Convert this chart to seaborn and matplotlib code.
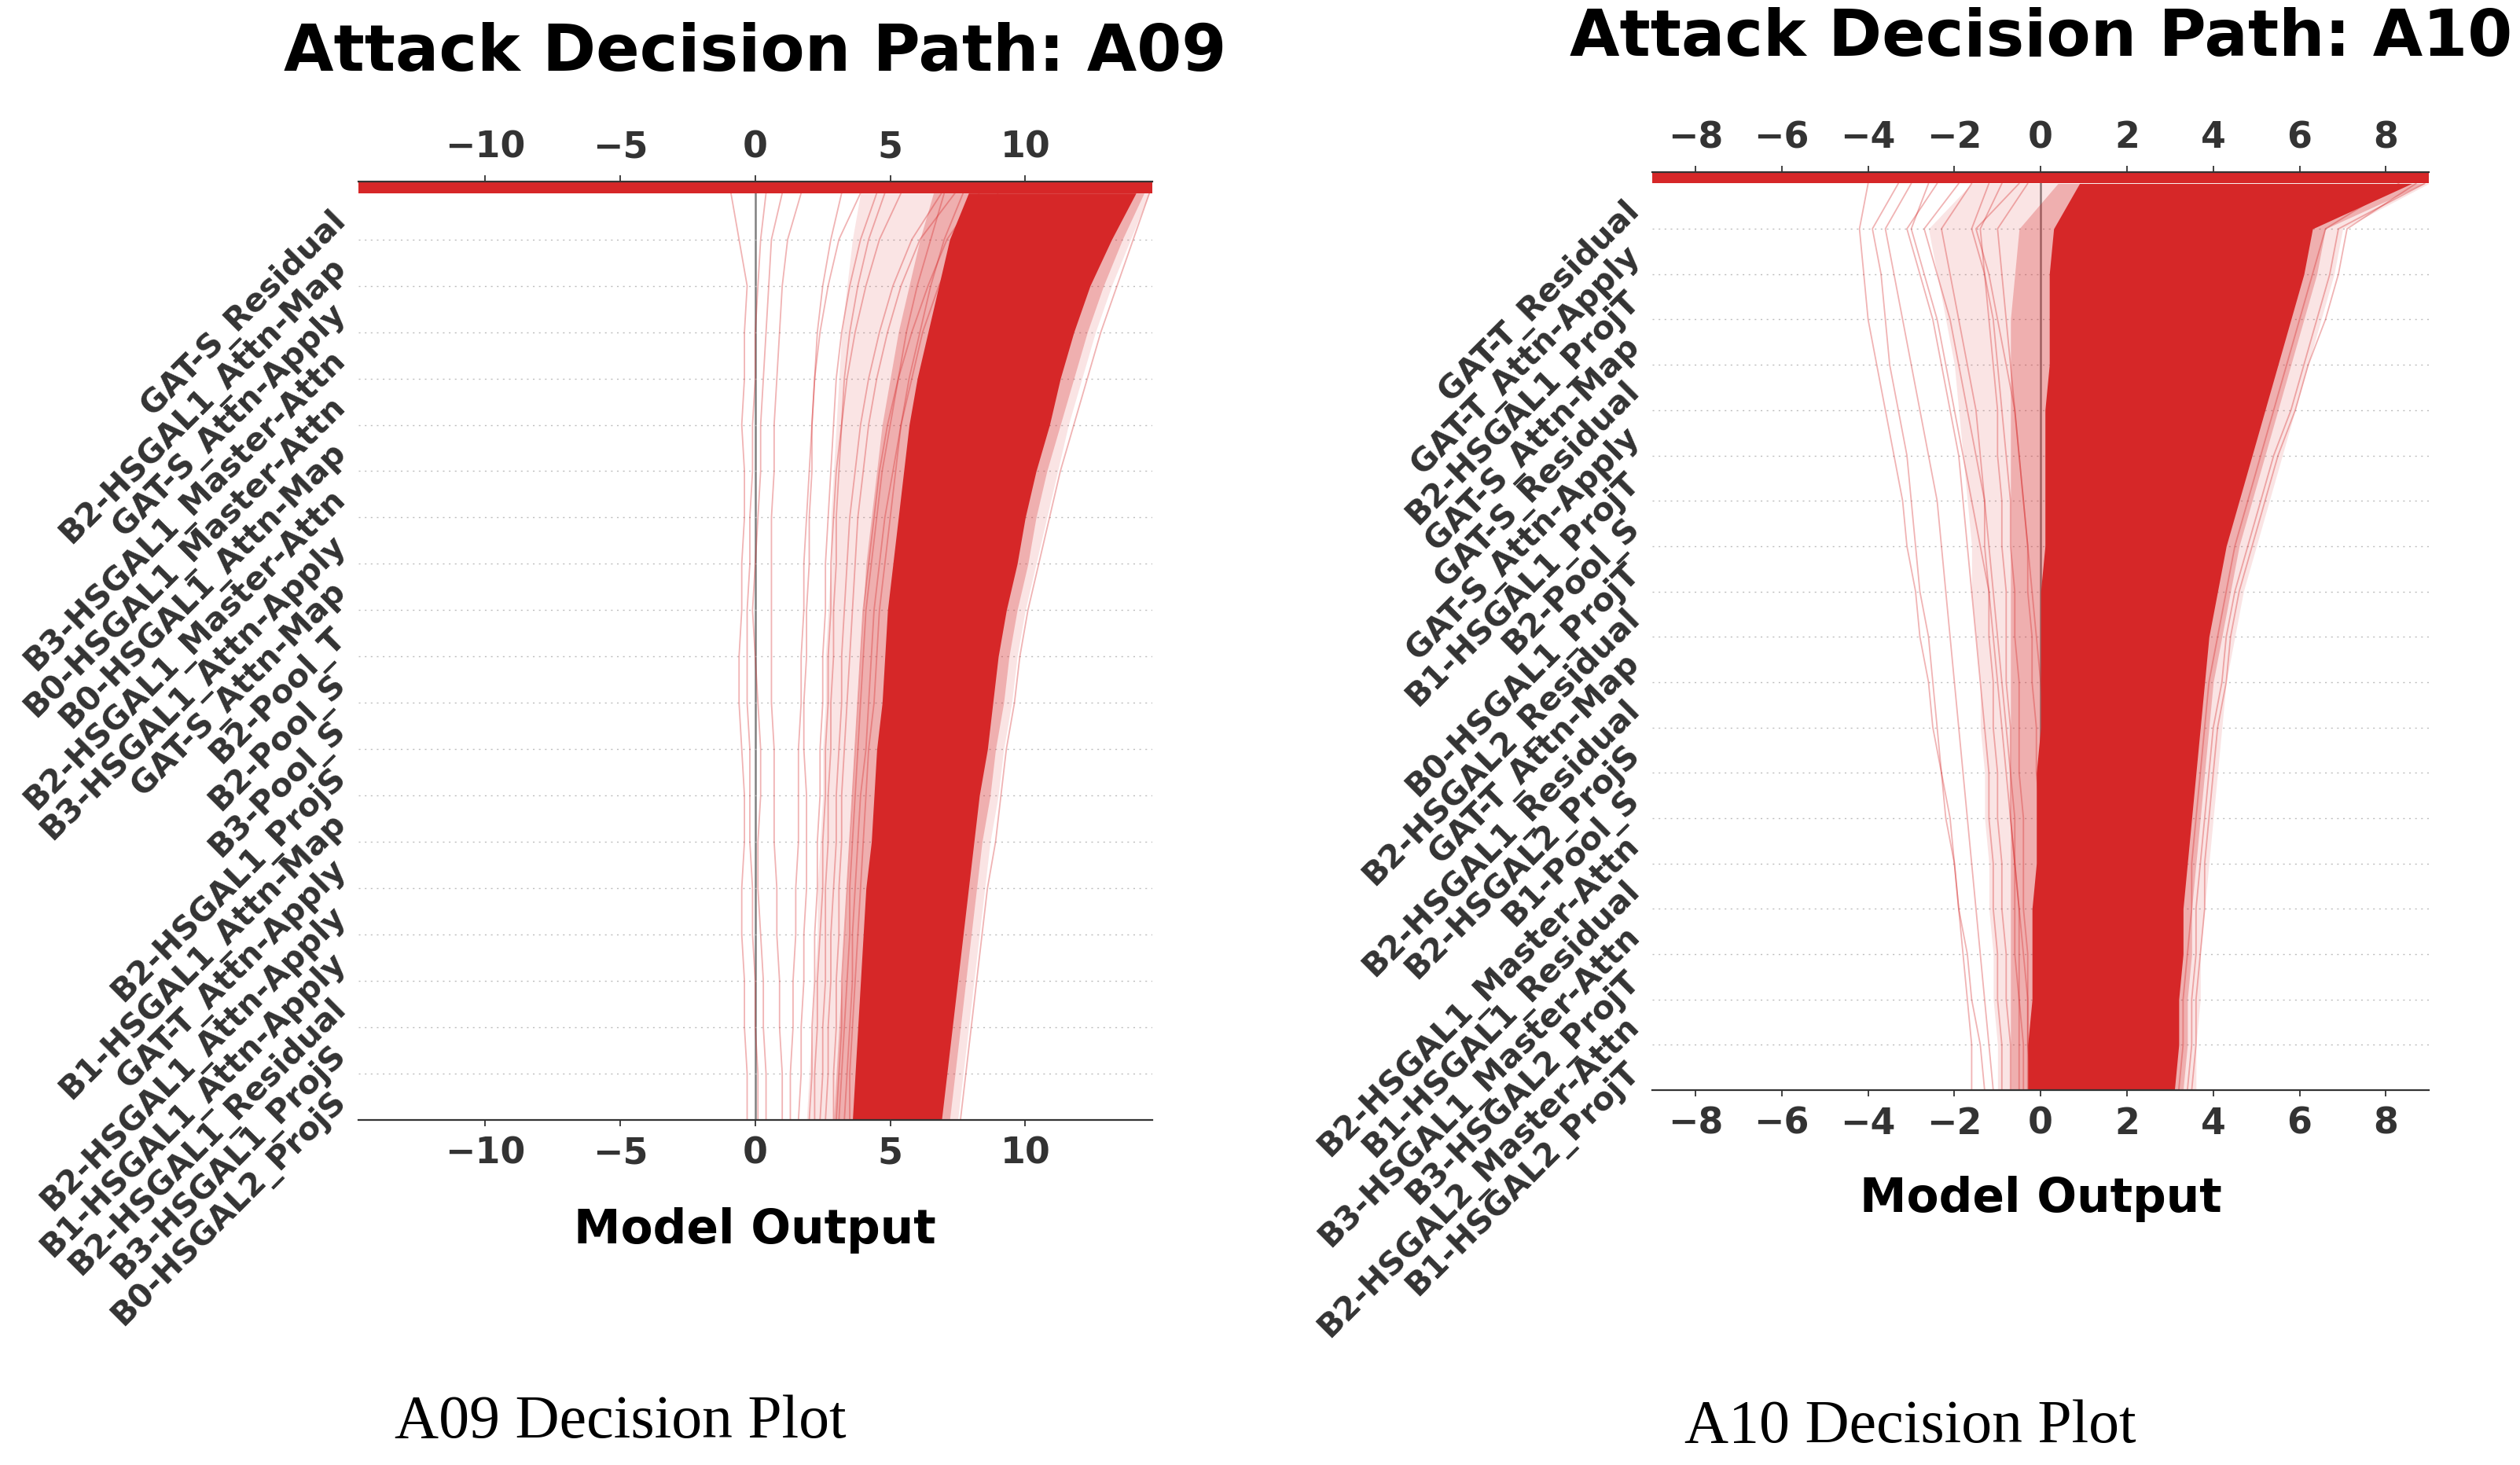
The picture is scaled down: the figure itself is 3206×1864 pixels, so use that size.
import numpy as np
import pandas as pd
import matplotlib
matplotlib.use("Agg")
import matplotlib.pyplot as plt
import seaborn as sns

sns.set_theme(style="white")
plt.rcParams["font.family"] = ["DejaVu Sans"]
plt.rcParams["font.weight"] = "bold"

RED = "#d62728"
AXIS = "#333333"

levels = list(range(21))

# ---------------- A09 ----------------
a09_features = ["GAT-S_Residual", "B2-HSGAL1_Attn-Map", "GAT-S_Attn-Apply",
                "B3-HSGAL1_Master-Attn", "B0-HSGAL1_Master-Attn", "B0-HSGAL1_Attn-Map",
                "B2-HSGAL1_Master-Attn", "B3-HSGAL1_Attn-Apply", "GAT-S_Attn-Map",
                "B2-Pool_T", "B2-Pool_S", "B3-Pool_S", "B2-HSGAL1_ProjS",
                "B1-HSGAL1_Attn-Map", "GAT-T_Attn-Apply", "B2-HSGAL1_Attn-Apply",
                "B1-HSGAL1_Attn-Apply", "B2-HSGAL1_Residual", "B3-HSGAL1_ProjS",
                "B0-HSGAL2_ProjS"]
a09_xticks = [-10, -5, 0, 5, 10]
a09_core_lo = [3.6, 3.7, 3.8, 3.9, 4.0, 4.1, 4.3, 4.4, 4.5, 4.7, 4.8, 4.9, 5.1, 5.3, 5.5, 5.7, 6.0, 6.4, 6.8, 7.2, 7.9]
a09_core_hi = [6.9, 7.1, 7.3, 7.5, 7.7, 7.9, 8.1, 8.3, 8.6, 8.8, 9.0, 9.3, 9.7, 10.0, 10.4, 10.9, 11.3, 11.8, 12.4, 13.2, 14.1]
a09_mid_lo = [2.9, 3.0, 3.1, 3.2, 3.3, 3.4, 3.5, 3.6, 3.7, 3.8, 3.9, 4.0, 4.1, 4.3, 4.5, 4.7, 5.0, 5.3, 5.7, 6.1, 6.6]
a09_mid_hi = [7.2, 7.4, 7.6, 7.8, 8.0, 8.2, 8.4, 8.7, 8.9, 9.2, 9.4, 9.7, 10.1, 10.4, 10.8, 11.3, 11.8, 12.3, 12.9, 13.6, 14.4]
a09_semi_lo = [1.9, 2.0, 2.1, 2.2, 2.3, 2.3, 2.4, 2.5, 2.5, 2.6, 2.6, 2.7, 2.8, 2.8, 2.9, 3.0, 3.1, 3.2, 3.4, 3.6, 3.9]
a09_semi_hi = [7.5, 7.7, 7.9, 8.1, 8.3, 8.5, 8.7, 9.0, 9.2, 9.5, 9.7, 10.0, 10.4, 10.8, 11.2, 11.6, 12.1, 12.6, 13.2, 13.9, 14.6]
a09_faint = [
    [-0.3, -0.3, -0.4, -0.4, -0.5, -0.5, -0.4, -0.4, -0.5, -0.6, -0.6, -0.5, -0.5, -0.4, -0.4, -0.5, -0.4, -0.4, -0.3, -0.6, -0.9],
    [0.4, 0.4, 0.3, 0.3, 0.2, 0.1, 0.1, 0.2, 0.2, 0.1, 0.0, -0.1, 0.0, 0.1, 0.2, 0.2, 0.3, 0.4, 0.5, 0.6, 1.0],
    [0.1, 0.1, 0.0, 0.0, -0.1, -0.1, -0.2, -0.2, -0.2, -0.3, -0.3, -0.3, -0.2, -0.2, -0.1, -0.1, 0.0, 0.0, 0.1, 0.2, 0.4],
    [1.0, 1.0, 0.9, 0.9, 0.8, 0.8, 0.7, 0.7, 0.7, 0.6, 0.6, 0.6, 0.6, 0.6, 0.7, 0.7, 0.8, 0.9, 1.0, 1.2, 1.7],
    [1.6, 1.7, 1.7, 1.8, 1.8, 1.9, 1.9, 1.9, 1.8, 1.8, 1.9, 1.9, 2.0, 2.0, 2.1, 2.1, 2.2, 2.3, 2.5, 2.8, 3.2],
    [2.2, 2.2, 2.3, 2.3, 2.4, 2.5, 2.5, 2.6, 2.6, 2.7, 2.7, 2.8, 2.8, 2.9, 3.0, 3.2, 3.4, 3.7, 4.1, 4.6, 5.4],
    [2.6, 2.7, 2.7, 2.8, 2.8, 2.9, 3.0, 3.0, 3.1, 3.2, 3.2, 3.3, 3.4, 3.5, 3.7, 3.9, 4.2, 4.6, 5.1, 5.8, 6.9],
    [3.0, 3.1, 3.2, 3.2, 3.3, 3.4, 3.5, 3.6, 3.7, 3.8, 3.9, 4.0, 4.2, 4.4, 4.6, 4.9, 5.3, 5.8, 6.4, 7.1, 8.3],
    [3.3, 3.4, 3.5, 3.6, 3.6, 3.7, 3.8, 3.9, 4.1, 4.2, 4.3, 4.4, 4.6, 4.8, 5.1, 5.4, 5.8, 6.2, 6.8, 7.6, 9.0],
    [3.5, 3.5, 3.6, 3.7, 3.8, 3.9, 4.0, 4.1, 4.2, 4.4, 4.5, 4.6, 4.8, 5.0, 5.2, 5.4, 5.7, 6.1, 6.5, 7.0, 7.7],
    [3.1, 3.2, 3.3, 3.4, 3.5, 3.5, 3.6, 3.7, 3.8, 3.9, 4.0, 4.1, 4.3, 4.5, 4.7, 5.0, 5.3, 5.6, 6.0, 6.5, 7.0],
    [7.6, 7.8, 8.0, 8.2, 8.4, 8.6, 8.9, 9.1, 9.3, 9.6, 9.8, 10.1, 10.5, 10.9, 11.3, 11.8, 12.3, 12.8, 13.4, 14.0, 14.6],
    [1.3, 1.3, 1.4, 1.4, 1.5, 1.5, 1.6, 1.6, 1.6, 1.7, 1.7, 1.8, 1.8, 1.9, 2.0, 2.1, 2.2, 2.4, 2.7, 3.1, 3.9],
    [2.0, 2.1, 2.1, 2.2, 2.2, 2.3, 2.3, 2.4, 2.4, 2.5, 2.5, 2.6, 2.6, 2.7, 2.8, 2.9, 3.0, 3.2, 3.5, 3.9, 4.5],
    [2.4, 2.5, 2.5, 2.6, 2.6, 2.6, 2.7, 2.7, 2.8, 2.8, 2.9, 2.9, 3.0, 3.0, 3.1, 3.2, 3.3, 3.5, 3.8, 4.2, 4.8],
    [2.9, 2.9, 3.0, 3.0, 3.1, 3.1, 3.2, 3.2, 3.3, 3.4, 3.5, 3.6, 3.7, 3.8, 4.0, 4.2, 4.5, 4.9, 5.4, 6.1, 7.4],
]

# ---------------- A10 ----------------
a10_features = ["GAT-T_Residual", "GAT-T_Attn-Apply", "B2-HSGAL1_ProjT", "GAT-S_Attn-Map",
                "GAT-S_Residual", "GAT-S_Attn-Apply", "B1-HSGAL1_ProjT", "B2-Pool_S",
                "B0-HSGAL1_ProjT", "B2-HSGAL2_Residual", "GAT-T_Attn-Map",
                "B2-HSGAL1_Residual", "B2-HSGAL2_ProjS", "B1-Pool_S",
                "B2-HSGAL1_Master-Attn", "B1-HSGAL1_Residual", "B3-HSGAL1_Master-Attn",
                "B3-HSGAL2_ProjT", "B2-HSGAL2_Master-Attn", "B1-HSGAL2_ProjT"]
a10_xticks = [-8, -6, -4, -2, 0, 2, 4, 6, 8]
a10_core_lo = [-0.3, -0.3, -0.2, -0.2, -0.2, -0.1, -0.1, -0.1, 0.0, 0.0, 0.0, 0.0, 0.1, 0.1, 0.1, 0.1, 0.2, 0.2, 0.2, 0.3, 0.9]
a10_core_hi = [3.1, 3.2, 3.2, 3.3, 3.3, 3.4, 3.5, 3.6, 3.7, 3.8, 3.9, 4.1, 4.3, 4.6, 4.9, 5.2, 5.5, 5.8, 6.1, 6.3, 8.6]
a10_mid_lo = [-0.7, -0.7, -0.7, -0.7, -0.7, -0.7, -0.7, -0.7, -0.7, -0.7, -0.7, -0.7, -0.7, -0.7, -0.7, -0.7, -0.7, -0.7, -0.6, -0.5, 0.4]
a10_mid_hi = [3.3, 3.4, 3.4, 3.5, 3.5, 3.6, 3.7, 3.8, 3.9, 4.0, 4.2, 4.4, 4.6, 4.9, 5.2, 5.5, 5.8, 6.1, 6.4, 6.6, 8.9]
a10_semi_lo = [-1.0, -1.0, -1.1, -1.1, -1.2, -1.2, -1.3, -1.3, -1.4, -1.4, -1.5, -1.6, -1.6, -1.7, -1.8, -1.9, -2.0, -2.2, -2.4, -2.6, -1.6]
a10_semi_hi = [3.6, 3.6, 3.7, 3.7, 3.8, 3.9, 4.0, 4.1, 4.2, 4.3, 4.5, 4.7, 5.0, 5.3, 5.6, 5.9, 6.2, 6.5, 6.8, 7.0, 9.0]
a10_faint = [
    [-1.3, -1.4, -1.6, -1.7, -1.9, -2.0, -2.2, -2.3, -2.5, -2.6, -2.8, -2.9, -3.1, -3.2, -3.4, -3.6, -3.8, -4.0, -4.1, -4.2, -4.0],
    [-1.1, -1.2, -1.3, -1.4, -1.5, -1.6, -1.7, -1.8, -1.9, -2.0, -2.1, -2.2, -2.3, -2.4, -2.6, -2.8, -3.0, -3.2, -3.4, -3.6, -3.0],
    [-0.9, -0.9, -1.0, -1.0, -1.1, -1.1, -1.2, -1.2, -1.3, -1.4, -1.5, -1.6, -1.7, -1.8, -1.9, -2.1, -2.3, -2.5, -2.8, -3.1, -2.4],
    [-0.7, -0.7, -0.8, -0.8, -0.9, -0.9, -1.0, -1.0, -1.1, -1.1, -1.2, -1.2, -1.3, -1.3, -1.4, -1.5, -1.7, -1.9, -2.1, -2.3, -1.6],
    [-0.5, -0.5, -0.5, -0.6, -0.6, -0.6, -0.7, -0.7, -0.7, -0.8, -0.8, -0.8, -0.9, -0.9, -1.0, -1.0, -1.1, -1.2, -1.3, -1.4, -0.9],
    [-0.4, -0.4, -0.5, -0.5, -0.5, -0.6, -0.6, -0.7, -0.8, -0.9, -1.0, -1.1, -1.2, -1.3, -1.5, -1.7, -1.9, -2.1, -2.4, -2.7, -1.9],
    [-0.3, -0.3, -0.3, -0.3, -0.4, -0.4, -0.4, -0.5, -0.5, -0.5, -0.6, -0.6, -0.7, -0.7, -0.8, -0.9, -1.0, -1.1, -1.3, -1.6, -1.2],
    [-0.2, -0.3, -0.3, -0.4, -0.5, -0.6, -0.7, -0.8, -0.9, -1.0, -1.1, -1.2, -1.4, -1.6, -1.8, -2.0, -2.2, -2.4, -2.7, -3.0, -2.6],
    [-1.6, -1.6, -1.7, -1.8, -1.9, -2.0, -2.1, -2.3, -2.4, -2.5, -2.6, -2.8, -2.9, -3.0, -3.1, -3.3, -3.5, -3.6, -3.7, -3.9, -3.3],
    [0.5, 0.4, 0.4, 0.3, 0.3, 0.2, 0.2, 0.1, 0.1, 0.0, -0.1, -0.2, -0.3, -0.4, -0.5, -0.6, -0.8, -1.0, -1.2, -1.5, -0.5],
    [0.3, 0.2, 0.2, 0.1, 0.1, 0.0, 0.0, -0.1, -0.1, -0.2, -0.2, -0.3, -0.3, -0.4, -0.5, -0.6, -0.7, -0.8, -0.9, -1.0, -0.3],
    [3.2, 3.3, 3.3, 3.4, 3.5, 3.5, 3.6, 3.7, 3.8, 3.9, 4.1, 4.3, 4.5, 4.8, 5.1, 5.4, 5.7, 6.0, 6.3, 6.6, 8.3],
    [3.4, 3.5, 3.5, 3.6, 3.6, 3.7, 3.8, 3.9, 4.0, 4.2, 4.3, 4.5, 4.8, 5.1, 5.4, 5.8, 6.1, 6.4, 6.7, 6.9, 8.9],
    [3.5, 3.6, 3.6, 3.7, 3.8, 3.8, 3.9, 4.0, 4.1, 4.3, 4.4, 4.6, 4.9, 5.2, 5.5, 5.9, 6.2, 6.6, 6.9, 7.1, 8.7],
]


def long_paths(paths):
    rows = []
    for i, p in enumerate(paths):
        for lvl, v in zip(levels, p):
            rows.append((i, lvl, v))
    return pd.DataFrame(rows, columns=["path", "level", "value"])


def decision_panel(ax, xlim, xticks, features, bands, faint, title, title_y):
    ax.axvline(0, color="#808080", lw=1.8, zorder=-1)
    for i in range(1, 20):
        ax.axhline(i, color="#bdbdbd", lw=1.0, dashes=(1.5, 4), zorder=-1)

    # density layers of the decision paths
    for (lo, hi), a in zip(bands, [0.12, 0.28, 1.0]):
        ax.fill_betweenx(levels, lo, hi, color=RED, alpha=a, lw=0)
    sns.lineplot(data=long_paths(faint), x="value", y="level", units="path",
                 estimator=None, orient="y", color=RED, alpha=0.35, lw=1.3,
                 legend=False, ax=ax)

    # colour bar strip
    ax.axhspan(20, 20.25, color=RED, lw=0)

    ax.set_xlim(*xlim)
    ax.set_ylim(0, 20.25)
    ax.set_xticks(xticks)
    ax.set_yticks(np.arange(20) + 0.5)
    ax.set_yticklabels(features[::-1], rotation=45, ha="right", va="center",
                       rotation_mode="anchor", fontsize=29.5, fontweight="bold", color=AXIS)
    ax.tick_params(axis="y", length=0, pad=16)
    ax.xaxis.set_ticks_position("both")
    ax.tick_params(axis="x", labeltop=True, labelbottom=True, labelsize=33,
                   colors=AXIS, length=6, width=1.3, pad=9)
    for s in ["left", "right"]:
        ax.spines[s].set_visible(False)
    for s in ["top", "bottom"]:
        ax.spines[s].set_color(AXIS)
        ax.spines[s].set_linewidth(1.6)
    ax.set_ylabel("")
    ax.set_xlabel("Model Output", fontsize=43, fontweight="bold", color="black")
    ax.xaxis.set_label_coords(0.5, -0.093)
    ax.set_title(title, fontsize=59, fontweight="bold", color="black",
                 y=title_y, va="center", pad=0)


fig = plt.figure(figsize=(32.06, 18.64), dpi=100)
ax1 = fig.add_axes([0.1422, 0.2355, 0.3150, 0.6406])
ax2 = fig.add_axes([0.6557, 0.2559, 0.3082, 0.6266])

decision_panel(ax1, (-14.7, 14.7), a09_xticks, a09_features,
               [(a09_semi_lo, a09_semi_hi), (a09_mid_lo, a09_mid_hi), (a09_core_lo, a09_core_hi)],
               a09_faint, "Attack Decision Path: A09", 1.137)
decision_panel(ax2, (-9.0, 9.0), a10_xticks, a10_features,
               [(a10_semi_lo, a10_semi_hi), (a10_mid_lo, a10_mid_hi), (a10_core_lo, a10_core_hi)],
               a10_faint, "Attack Decision Path: A10", 1.146)

fig.text(789 / 3206, 1 - 1810 / 1864, "A09 Decision Plot", ha="center", va="center",
         fontsize=56, fontweight="normal", family=["Liberation Serif", "DejaVu Serif"], color="black")
fig.text(2430 / 3206, 1 - 1816 / 1864, "A10 Decision Plot", ha="center", va="center",
         fontsize=56, fontweight="normal", family=["Liberation Serif", "DejaVu Serif"], color="black")

fig.savefig("out.png", dpi=100)
